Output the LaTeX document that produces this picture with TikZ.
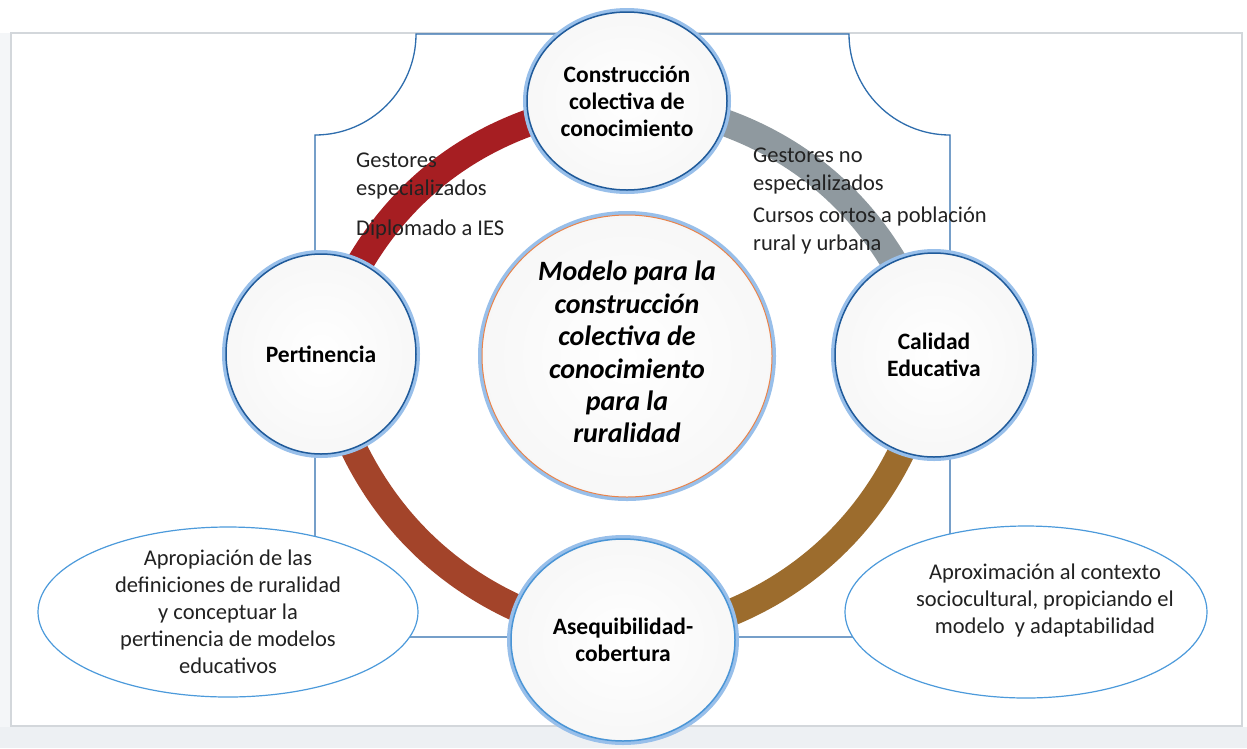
\documentclass[tikz,border=0pt]{standalone}
\usepackage{fontspec}
\setmainfont{Carlito}
\usetikzlibrary{shapes.geometric}
\definecolor{dblue}{HTML}{1F5A9A}
\definecolor{glowc}{HTML}{98BFEA}
\definecolor{ablue}{HTML}{4A95D6}
\definecolor{plaquec}{HTML}{2E6DAD}
\definecolor{ellc}{HTML}{4C9ADB}
\definecolor{framec}{HTML}{D3D7DB}
\definecolor{stripc}{HTML}{EDF0F3}
\definecolor{redc}{HTML}{A61E22}
\definecolor{grayc}{HTML}{8F999F}
\definecolor{goldc}{HTML}{9C6C2D}
\definecolor{rustc}{HTML}{A3442A}
\definecolor{orangec}{HTML}{E9834A}
\definecolor{txtc}{HTML}{222222}
\pgfdeclarelayer{back}
\pgfdeclarelayer{mid}
\pgfsetlayers{back,mid,main}
\begin{document}
\begin{tikzpicture}[x=1pt,y=-1pt,
  circ/.style={ellipse, inner sep=0pt, align=center, text=black,
    font=\fontsize{23.5}{27}\selectfont\bfseries,
    preaction={draw=glowc, line width=8pt},
    draw=dblue, line width=1.5pt, inner color=white, outer color=black!3},
  band/.style={line width=27pt},
  oval/.style={ellipse, draw=ellc, line width=1.2pt, fill=white, inner sep=0pt},
  lbl/.style={inner sep=0pt, text=txtc, font=\fontsize{22.5}{28}\selectfont},
  ovaltxt/.style={inner sep=0pt, text=txtc, align=center, font=\fontsize{22.5}{27}\selectfont}
]
\useasboundingbox (0,0) rectangle (1247,748);
\begin{pgfonlayer}{back}
\fill[white] (0,0) rectangle (1247,748);
\fill[stripc] (0,727) rectangle (1247,748);
\fill[stripc!60] (0,33) rectangle (10,727);
\draw[framec, line width=1.5pt] (11,33) rectangle (1242,726);
\draw[plaquec, line width=1.3pt] (416,34) -- (849,34)
  .. controls (849,89.8) and (894.2,135) .. (950,135) -- (950,567)
  .. controls (911.3,567) and (880,598.3) .. (880,637) -- (385,637)
  .. controls (385,598.3) and (353.7,567) .. (315,567) -- (315,135)
  .. controls (370.8,135) and (416,89.8) .. (416,34) -- cycle;
\node[oval, minimum width=380pt, minimum height=170pt] (lov) at (228,612) {};
\node[oval, minimum width=362pt, minimum height=172pt] (rov) at (1026,612) {};
\end{pgfonlayer}

\node[circ, minimum width=200pt, minimum height=178pt] (top) at (627,101)
  {Construcción\\colectiva de\\conocimiento};
\node[circ, minimum width=190pt, minimum height=200pt] (pert) at (321,354)
  {Pertinencia};
\node[circ, minimum width=198pt, minimum height=204pt] (cal) at (934,355)
  {Calidad\\Educativa};
\node[circ, draw=ablue, minimum width=224pt, minimum height=202pt] (aseq) at (623,640)
  {Asequibilidad-\\cobertura};
\node[circ, draw=orangec, line width=1pt, minimum width=290pt, minimum height=282pt,
  font=\fontsize{28}{32.4}\selectfont\bfseries\itshape] (ctr) at (627,356)
  {Modelo para la\\construcción\\colectiva de\\conocimiento\\para la\\ruralidad\rule[-8pt]{0pt}{0pt}};

\begin{pgfonlayer}{mid}
\draw[band, redc] (pert.center) to[bend left=34] (top.center);
\draw[band, grayc] (top.center) to[bend left=34] (cal.center);
\draw[band, goldc] (cal.center) to[bend left=36] (aseq.center);
\draw[band, rustc] (aseq.center) to[bend left=34] (pert.center);
\end{pgfonlayer}

\node[lbl, align=left, anchor=north west] (lg) at (356,153)
  {Gestores\\especializados\\[12pt]Diplomado a IES};
\node[lbl, align=left, anchor=north west] (rg) at (753,148)
  {Gestores no\\especializados\\[4pt]Cursos cortos a población\\rural y urbana};
\node[ovaltxt] (lt) at (228,612)
  {Apropiación de las\\definiciones de ruralidad\\y conceptuar la\\pertinencia de modelos\\educativos};
\node[ovaltxt] (rt) at (1045,600)
  {Aproximación al contexto\\sociocultural, propiciando el\\modelo\ \ y adaptabilidad};
\end{tikzpicture}
\end{document}
